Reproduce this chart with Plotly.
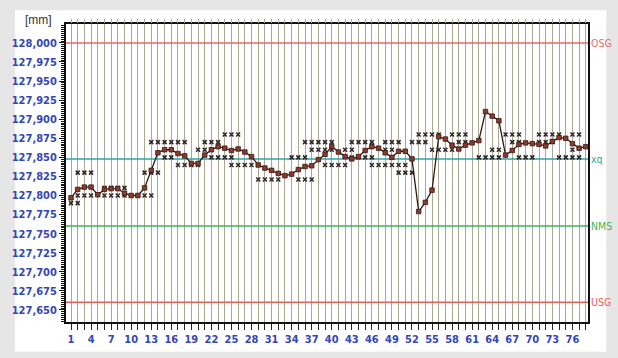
import plotly.graph_objects as go

# Sample numbers and the plotted sample means [mm]
samples = list(range(1, 79))
mean_values = [
    127.797, 127.808, 127.811, 127.811, 127.801, 127.808, 127.809, 127.809, 127.803, 127.800,
    127.800, 127.810, 127.833, 127.856, 127.860, 127.860, 127.855, 127.852, 127.842, 127.842,
    127.853, 127.860, 127.864, 127.862, 127.859, 127.861, 127.857, 127.851, 127.840, 127.836,
    127.833, 127.829, 127.826, 127.828, 127.834, 127.838, 127.839, 127.847, 127.854, 127.864,
    127.857, 127.851, 127.848, 127.851, 127.859, 127.864, 127.862, 127.856, 127.850, 127.858,
    127.858, 127.848, 127.779, 127.791, 127.807, 127.877, 127.874, 127.866, 127.861, 127.866,
    127.869, 127.872, 127.910, 127.904, 127.898, 127.853, 127.859, 127.867, 127.869, 127.868,
    127.867, 127.865, 127.871, 127.876, 127.875, 127.868, 127.862, 127.864,
]

# Single readings: (value, samples showing that value)
reading_rows = [
    (127.790, [1, 2]),
    (127.800, [2, 3, 4]),
    (127.830, [2, 3, 4]),
    (127.810, [6, 7, 8, 9]),
    (127.800, [6, 7, 8, 9]),
    (127.800, [11, 12, 13]),
    (127.830, [12, 13, 14]),
    (127.870, [13, 14, 15, 16, 17, 18]),
    (127.850, [15, 16]),
    (127.840, [17, 18, 19, 20]),
    (127.870, [21, 22, 23]),
    (127.860, [20, 21, 22]),
    (127.850, [22, 23, 24, 25]),
    (127.880, [24, 25, 26]),
    (127.840, [25, 26, 27, 28]),
    (127.821, [29, 30, 31, 32]),
    (127.850, [34, 35, 36]),
    (127.821, [35, 36, 37]),
    (127.870, [36, 37, 38, 39, 40]),
    (127.860, [37, 38, 39, 40]),
    (127.840, [39, 40, 41, 42]),
    (127.860, [42, 43]),
    (127.870, [43, 44, 45, 46]),
    (127.850, [43, 44, 45, 46]),
    (127.840, [46, 47, 48, 49, 50, 51]),
    (127.870, [48, 49, 50]),
    (127.860, [48, 49]),
    (127.830, [50, 51, 52]),
    (127.870, [52, 53, 54]),
    (127.880, [53, 54, 55, 56]),
    (127.860, [55, 56, 57, 58]),
    (127.880, [58, 59, 60]),
    (127.870, [59, 60]),
    (127.850, [62, 63, 64, 65]),
    (127.860, [64, 65]),
    (127.880, [66, 67, 68]),
    (127.870, [67, 68]),
    (127.850, [68, 69, 70]),
    (127.880, [71, 72, 73, 74]),
    (127.870, [71, 72, 73]),
    (127.850, [74, 75, 76, 77]),
    (127.860, [76]),
    (127.880, [76, 77]),
]
reading_samples = [s for _, row in reading_rows for s in row]
reading_values = [v for v, row in reading_rows for _ in row]

# Axis ticks
x_labelled = list(range(1, 77, 3))
x_tick_text = [str(s) if s in x_labelled else "" for s in samples]
y_tick_values = [127.650, 127.675, 127.700, 127.725, 127.750, 127.775, 127.800,
                 127.825, 127.850, 127.875, 127.900, 127.925, 127.950, 127.975, 128.000]
y_tick_text = [f"<b>{v:.3f}</b>".replace(".", ",") for v in y_tick_values]

# Limit lines
limit_names = ["OSG", "xq", "NMS", "USG"]
limit_values = [128.000, 127.848, 127.760, 127.660]
limit_colors = ["#e86a62", "#2fa6a6", "#3cb45a", "#e8605a"]

NARROW = "DejaVu Sans Condensed, Liberation Sans Narrow, Arial Narrow, Liberation Sans"
BLUE = "#3446b4"
TICK_FONT = dict(family=NARROW, size=11, color=BLUE)

x_range = [0.25, 78.33]

fig = go.Figure()

# specification / target lines across the full width
for name, val, col in zip(limit_names, limit_values, limit_colors):
    fig.add_trace(go.Scatter(x=x_range, y=[val, val], mode="lines",
                             line=dict(color=col, width=1.5),
                             hoverinfo="skip", showlegend=False))
    fig.add_annotation(xref="paper", x=1, xanchor="left", xshift=1, yref="y", y=val,
                       text=name, showarrow=False,
                       font=dict(family=NARROW, size=10.5, color=col))

fig.add_trace(go.Scatter(
    x=reading_samples, y=reading_values, mode="markers",
    marker=dict(symbol="x-thin", size=4, color="#2e2624",
                line=dict(color="#2e2624", width=1.5)),
    hoverinfo="skip", showlegend=False,
))
fig.add_trace(go.Scatter(
    x=samples, y=mean_values, mode="lines+markers",
    line=dict(color="#2a1a16", width=1.3),
    marker=dict(symbol="square", size=4.5, color="#8c3a2c",
                line=dict(color="#3a1812", width=0.8)),
    showlegend=False,
))
# invisible trace to carry the top axis ticks
fig.add_trace(go.Scatter(x=[samples[0]], y=[mean_values[0]], xaxis="x2",
                         mode="markers", marker=dict(opacity=0),
                         hoverinfo="skip", showlegend=False))

# white panel on the grey page
fig.add_shape(type="rect", xref="paper", yref="paper",
              x0=-0.0975, x1=1.035, y0=-0.1, y1=1.046,
              fillcolor="white", line=dict(width=0), layer="below")

fig.add_annotation(xref="paper", yref="paper", x=-0.083, y=1.013, xanchor="left",
                   yanchor="middle", text="[mm]", showarrow=False,
                   font=dict(family="Liberation Sans, Arial", size=12, color="#333333"))

fig.update_layout(
    width=618, height=358,
    margin=dict(l=64, r=30, t=24, b=30),
    paper_bgcolor="#e6e6e6",
    plot_bgcolor="#fbf8cb",
    xaxis=dict(
        range=x_range, tickmode="array", tickvals=samples,
        ticktext=[f"<b>{t}</b>" if t else "" for t in x_tick_text],
        ticks="outside", ticklen=6, tickwidth=1, tickcolor="#222",
        showgrid=True, gridcolor="#aaa792", gridwidth=1.3,
        showline=True, linecolor="#111", linewidth=2, mirror=True,
        zeroline=False, tickfont=TICK_FONT,
    ),
    xaxis2=dict(
        range=x_range, overlaying="x", side="top", tickmode="array", tickvals=samples,
        ticks="outside", ticklen=4, tickcolor="#aaaaaa", showticklabels=False,
        showgrid=False, showline=False, zeroline=False,
    ),
    yaxis=dict(
        range=[127.6342, 128.0248], tickmode="array", tickvals=y_tick_values,
        ticktext=y_tick_text, ticks="outside", ticklen=5, tickwidth=1.2, tickcolor="#111",
        minor=dict(dtick=0.0025, tick0=127.65, ticks="outside", ticklen=3,
                   tickcolor="#111", showgrid=False),
        showgrid=False, showline=True, linecolor="#111", linewidth=2, mirror=True,
        zeroline=False, tickfont=TICK_FONT,
    ),
)

fig.write_html("out.html")
